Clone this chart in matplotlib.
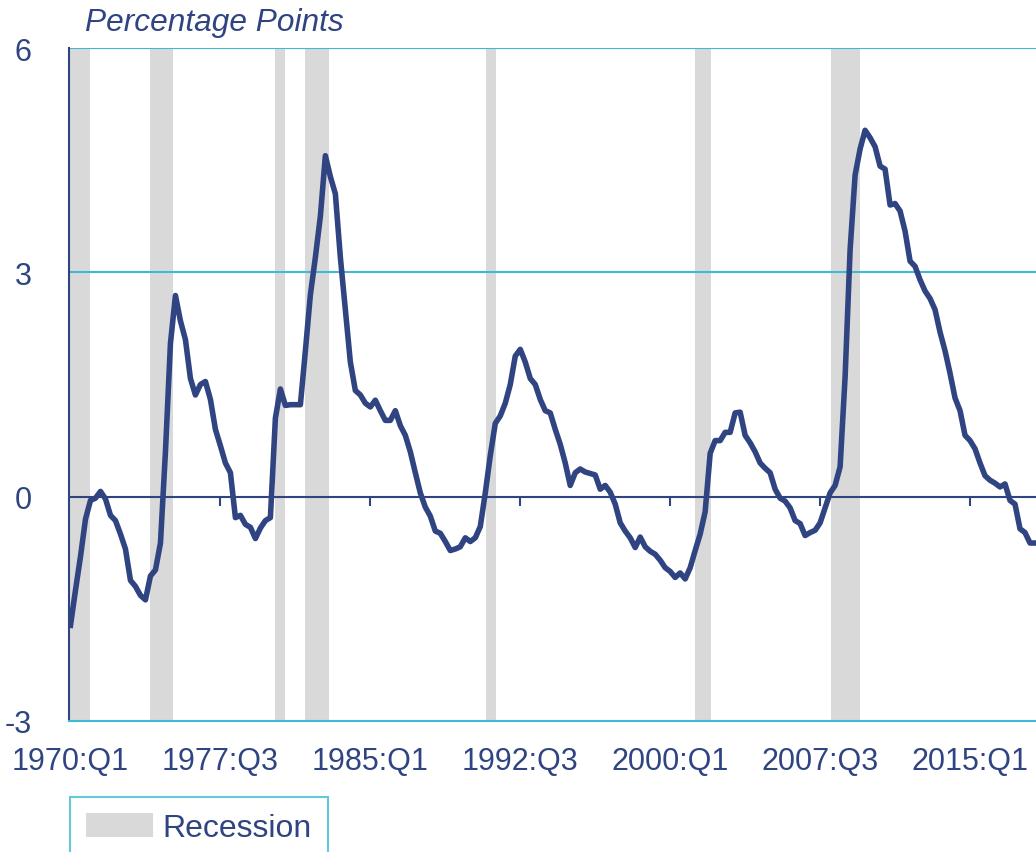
import matplotlib
matplotlib.use("Agg")
import matplotlib.pyplot as plt
from matplotlib.patches import Patch
import numpy as np

plt.rcParams['font.family'] = ['Liberation Sans', 'DejaVu Sans']

# Quarterly gap, 1970:Q1 .. 2018:Q2 (quarter index 0..193)
gap = [
    -1.72, -1.25, -0.80, -0.30, -0.05, -0.02, 0.07, -0.03, -0.25, -0.32,
    -0.50, -0.70, -1.12, -1.20, -1.32, -1.38, -1.06, -0.98, -0.62, 0.60,
    2.05, 2.69, 2.35, 2.10, 1.58, 1.36, 1.50, 1.54, 1.30, 0.90,
    0.68, 0.45, 0.32, -0.28, -0.25, -0.37, -0.41, -0.56, -0.42, -0.32,
    -0.28, 1.05, 1.44, 1.22, 1.23, 1.23, 1.23, 1.95, 2.70, 3.20,
    3.75, 4.56, 4.28, 4.05, 3.20, 2.50, 1.80, 1.42, 1.36, 1.25,
    1.20, 1.29, 1.15, 1.02, 1.02, 1.15, 0.95, 0.82, 0.60, 0.32,
    0.05, -0.14, -0.26, -0.46, -0.49, -0.60, -0.72, -0.70, -0.67, -0.55,
    -0.60, -0.55, -0.40, 0.05, 0.55, 0.98, 1.08, 1.25, 1.50, 1.88,
    1.97, 1.80, 1.58, 1.50, 1.30, 1.15, 1.12, 0.90, 0.70, 0.45,
    0.15, 0.32, 0.37, 0.33, 0.31, 0.29, 0.10, 0.15, 0.06, -0.10,
    -0.35, -0.46, -0.55, -0.68, -0.54, -0.67, -0.73, -0.77, -0.85, -0.95,
    -1.00, -1.08, -1.02, -1.10, -0.95, -0.72, -0.50, -0.20, 0.58, 0.75,
    0.75, 0.86, 0.86, 1.12, 1.13, 0.82, 0.72, 0.60, 0.45, 0.38,
    0.32, 0.10, -0.02, -0.06, -0.15, -0.32, -0.36, -0.52, -0.48, -0.45,
    -0.35, -0.15, 0.05, 0.15, 0.40, 1.60, 3.30, 4.30, 4.65, 4.90,
    4.80, 4.68, 4.42, 4.38, 3.90, 3.92, 3.82, 3.55, 3.15, 3.08,
    2.90, 2.75, 2.65, 2.50, 2.20, 1.95, 1.65, 1.32, 1.15, 0.82,
    0.75, 0.64, 0.45, 0.28, 0.22, 0.18, 0.13, 0.17, -0.05, -0.10,
    -0.43, -0.48, -0.62, -0.62,
]
quarters = np.arange(len(gap))

# Recession shading (quarter index start / end)
rec_start = [0.0, 15.9, 40.9, 46.9, 83.2, 125.0, 152.1]
rec_end = [3.9, 20.6, 42.9, 51.7, 85.1, 128.2, 158.0]

tick_pos = [0, 30, 60, 90, 120, 150, 180]
tick_labels = ["1970:Q1", "1977:Q3", "1985:Q1", "1992:Q3", "2000:Q1", "2007:Q3", "2015:Q1"]
y_ticks = [-3, 0, 3, 6]

NAVY = "#2F4481"
CYAN = "#3DBAD6"
GRAY = "#D9D9D9"

fig = plt.figure(figsize=(10.36, 8.53), dpi=100)
ax = fig.add_axes([69 / 1036, 1 - 722 / 853, 1 - 69 / 1036, (722 - 49) / 853])

for s, e in zip(rec_start, rec_end):
    ax.axvspan(s, e, color=GRAY, lw=0, zorder=1)

for yv in [3, 6]:
    ax.axhline(yv, color=CYAN, lw=1.5, zorder=2)
ax.axhline(0, color=NAVY, lw=1.5, zorder=2)

# small tick marks on the zero line
ax.vlines(tick_pos[1:], -0.13, 0, color=NAVY, lw=1.5, zorder=2)

ax.plot(quarters, gap, color=NAVY, lw=4.0, zorder=3, solid_joinstyle='round')

ax.set_xlim(-0.3, 193.2)
ax.set_ylim(-3, 6)
ax.set_yticks(y_ticks)
ax.set_yticklabels([str(v) for v in y_ticks])
ax.set_xticks(tick_pos)
ax.set_xticklabels(tick_labels)
ax.tick_params(axis='both', length=0, labelsize=22, labelcolor=NAVY)
ax.tick_params(axis='x', pad=18)
ax.tick_params(axis='y', pad=27)

for side in ['top', 'right']:
    ax.spines[side].set_visible(False)
ax.spines['left'].set_color(NAVY)
ax.spines['left'].set_linewidth(1.5)
ax.spines['bottom'].set_color(CYAN)
ax.spines['bottom'].set_linewidth(1.5)

fig.text(85 / 1036, 1 - 23 / 853, "Percentage Points", style='italic',
         fontsize=22.8, color=NAVY, ha='left', va='center')

leg = fig.legend(handles=[Patch(facecolor=GRAY, edgecolor='none', label="Recession")],
                 loc='upper left', bbox_to_anchor=(70 / 1036, 1 - 798 / 853),
                 frameon=True, fancybox=False, fontsize=23, handlelength=2.1,
                 handleheight=0.8, handletextpad=0.3, borderpad=0.5,
                 labelcolor=NAVY, borderaxespad=0)
leg.get_frame().set_edgecolor(CYAN)
leg.get_frame().set_linewidth(1.5)

fig.savefig("out.png", dpi=100)
